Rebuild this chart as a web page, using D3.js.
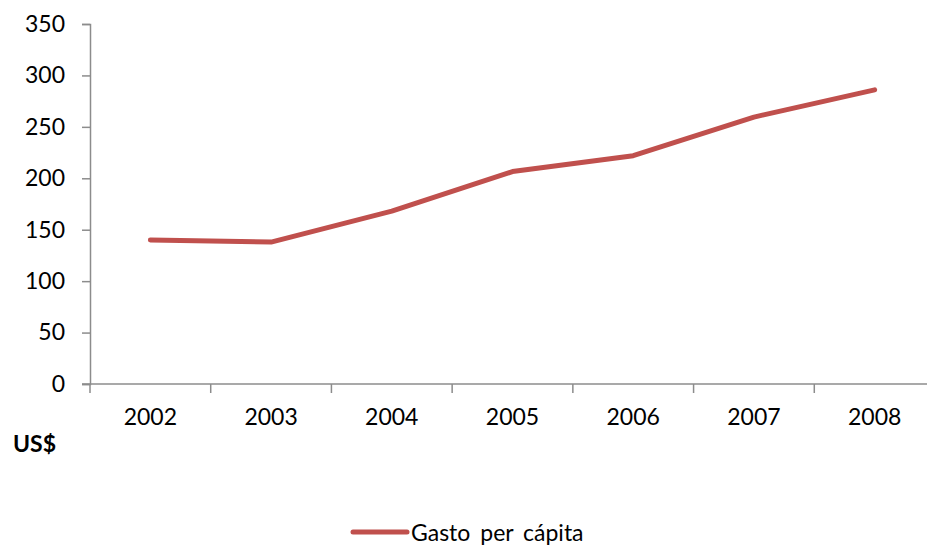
<!DOCTYPE html>
<html><head><meta charset="utf-8">
<script src="https://cdn.jsdelivr.net/npm/d3@7"></script>
<style>body{margin:0;background:#fff;} text{font-family:Lato,"Open Sans",sans-serif;}</style>
</head><body>
<svg id="c" width="927" height="548"></svg>
<script>
const categories = ["2002","2003","2004","2005","2006","2007","2008"];
const values = [140, 138, 168, 206.5, 222, 259.5, 286];
const yTicks = [0,50,100,150,200,250,300,350];
const seriesName = "Gasto per cápita";
const unitLabel = "US$";

const svg = d3.select("#c");
const x = d3.scaleBand().domain(categories).range([90, 935]);
const y = d3.scaleLinear().domain([0, 350]).range([384, 24]);
const axisColor = "#8c8c8c";
const fs = 23;

// y axis
const ya = svg.append("g").attr("transform","translate(90,0)")
  .call(d3.axisLeft(y).tickValues(yTicks).tickSize(8).tickPadding(17));
ya.select(".domain").attr("stroke",axisColor).attr("stroke-width",1.5);
ya.selectAll(".tick line").attr("stroke",axisColor).attr("stroke-width",1.5);
ya.selectAll("text").attr("font-size",fs).attr("fill","#000").attr("font-family","Lato");

// x axis
const xa = svg.append("g").attr("transform","translate(0,384)")
  .call(d3.axisBottom(x).tickSize(0).tickPadding(25));
xa.select(".domain").remove();
xa.append("line").attr("x1",82).attr("x2",935).attr("y1",0).attr("y2",0)
  .attr("stroke",axisColor).attr("stroke-width",1.5);
xa.selectAll(".tb").data(categories.concat(["_end"])).enter().append("line")
  .attr("x1",(d,i)=>90+i*x.step()).attr("x2",(d,i)=>90+i*x.step())
  .attr("y1",0).attr("y2",9).attr("stroke",axisColor).attr("stroke-width",1.5);
xa.selectAll("text").attr("font-size",fs).attr("fill","#000").attr("font-family","Lato");

// line
const line = d3.line().x((d,i)=>x(categories[i])+x.bandwidth()/2).y(d=>y(d));
svg.append("path").datum(values).attr("d",line).attr("fill","none")
  .attr("stroke","#C0504D").attr("stroke-width",5).attr("stroke-linecap","round").attr("stroke-linejoin","round");

// unit label
svg.append("text").attr("x",13).attr("y",452).attr("font-size",fs).attr("font-weight","bold").text(unitLabel);

// legend
svg.append("line").attr("x1",353).attr("x2",407).attr("y1",532).attr("y2",532)
  .attr("stroke","#C0504D").attr("stroke-width",5).attr("stroke-linecap","round");
svg.append("text").attr("x",411).attr("y",541).attr("font-size",fs).attr("word-spacing",4).text(seriesName);
</script>
</body></html>
